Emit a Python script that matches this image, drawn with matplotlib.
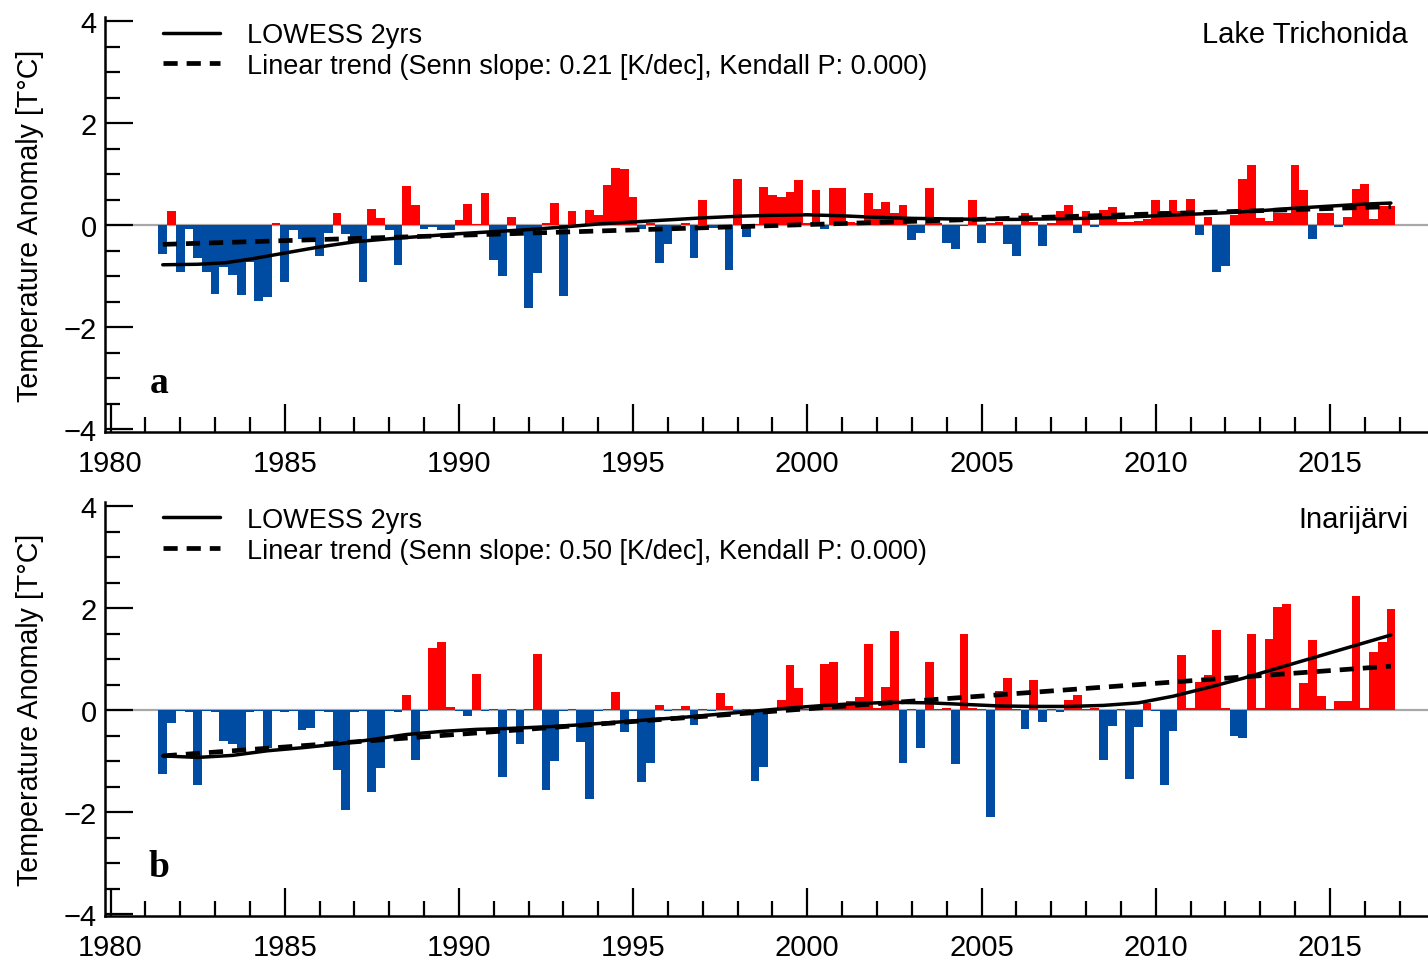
import numpy as np
import matplotlib
matplotlib.use("Agg")
import matplotlib.pyplot as plt
from matplotlib.ticker import MultipleLocator

# ---------------- data ----------------
first_center = 1981.5
step = 0.25

anom_a = [
    -0.56, 0.28, -0.92, -0.08, -0.65, -0.93, -1.36, -0.82, -0.98, -1.37,
    -0.73, -1.49, -1.41, 0.03, -1.12, -0.10, -0.28, -0.30, -0.60, -0.15,
    0.24, -0.18, -0.30, -1.12, 0.31, 0.14, -0.10, -0.78, 0.76, 0.39,
    -0.07, -0.03, -0.10, -0.10, 0.10, 0.42, 0.02, 0.63, -0.69, -1.00,
    0.16, -0.10, -1.63, -0.95, 0.03, 0.44, -1.40, 0.27, 0.02, 0.30,
    0.20, 0.78, 1.11, 1.10, 0.55, -0.08, 0.03, -0.75, -0.38, -0.03,
    0.03, -0.64, 0.49, -0.05, -0.05, -0.88, 0.90, -0.23, 0.02, 0.75,
    0.58, 0.54, 0.65, 0.88, 0.03, 0.69, -0.07, 0.72, 0.73, 0.05,
    0.03, 0.63, 0.31, 0.46, 0.23, 0.39, -0.29, -0.16, 0.72, 0.03,
    -0.35, -0.48, -0.02, 0.50, -0.35, 0.03, 0.05, -0.38, -0.61, 0.23,
    0.05, -0.41, 0.03, 0.27, 0.40, -0.16, 0.27, -0.04, 0.29, 0.36,
    0.05, 0.05, 0.08, 0.12, 0.49, 0.27, 0.49, 0.27, 0.51, -0.20,
    0.15, -0.93, -0.80, 0.20, 0.91, 1.18, 0.13, 0.08, 0.23, 0.23,
    1.18, 0.69, -0.27, 0.23, 0.23, -0.04, 0.15, 0.70, 0.80, 0.11,
    0.37, 0.37,
]

anom_b = [
    -1.25, -0.26, -0.02, -0.03, -1.48, -0.02, -0.03, -0.60, -0.67, -0.78,
    -0.03, -0.02, -0.74, -0.02, -0.03, -0.02, -0.39, -0.36, -0.02, -0.03,
    -1.18, -1.96, -0.03, -0.02, -1.61, -1.14, -0.02, -0.03, 0.29, -0.99,
    -0.02, 1.21, 1.34, 0.05, -0.02, -0.12, 0.71, -0.02, 0.02, -1.32,
    0.02, -0.67, 0.02, 1.10, -1.56, -1.00, -0.02, 0.02, -0.63, -1.75,
    -0.02, 0.02, 0.36, -0.44, -0.02, -1.42, -1.03, 0.10, -0.02, 0.02,
    0.07, -0.30, 0.02, -0.02, 0.33, 0.07, -0.02, 0.02, -1.40, -1.11,
    0.02, 0.20, 0.89, 0.43, 0.02, 0.03, 0.90, 0.95, 0.03, 0.18,
    0.25, 1.29, 0.03, 0.46, 1.54, -1.04, 0.02, -0.75, 0.95, 0.02,
    0.03, -1.06, 1.50, 0.03, 0.02, -2.10, 0.38, 0.62, 0.02, -0.37,
    0.58, -0.23, 0.02, -0.03, 0.20, 0.29, 0.02, 0.03, -0.99, -0.31,
    0.02, -1.35, -0.33, 0.13, -0.02, -1.47, -0.41, 1.07, 0.03, 0.55,
    0.68, 1.56, 0.03, -0.50, -0.55, 1.49, 0.03, 1.39, 2.01, 2.08,
    0.03, 0.53, 1.38, 0.28, 0.02, 0.18, 0.18, 2.23, 0.03, 1.14,
    1.33, 1.98,
]

lowess_years_a = [1981.5, 1982.5, 1983.3, 1984.0, 1985.0, 1986.0, 1987.0, 1988.0,
                  1989.0, 1990.0, 1991.0, 1992.0, 1993.0, 1994.0, 1995.0, 1996.0,
                  1997.0, 1998.0, 1999.0, 2000.0, 2001.0, 2002.0, 2003.0, 2004.0,
                  2005.0, 2006.0, 2007.0, 2008.0, 2009.0, 2010.0, 2011.0, 2012.0,
                  2013.0, 2014.0, 2015.0, 2016.0, 2016.75]
lowess_a = [-0.78, -0.77, -0.74, -0.67, -0.55, -0.43, -0.33, -0.27,
            -0.22, -0.17, -0.13, -0.09, -0.04, 0.02, 0.06, 0.10,
            0.14, 0.17, 0.19, 0.20, 0.18, 0.15, 0.13, 0.12,
            0.11, 0.11, 0.12, 0.13, 0.15, 0.18, 0.21, 0.24,
            0.28, 0.33, 0.37, 0.41, 0.43]

lowess_years_b = [1981.5, 1982.5, 1983.5, 1984.5, 1985.5, 1986.5, 1987.5, 1988.5,
                  1989.5, 1990.5, 1991.5, 1992.5, 1993.5, 1994.5, 1995.5, 1996.5,
                  1997.5, 1998.5, 1999.5, 2000.5, 2001.5, 2002.5, 2003.5, 2004.5,
                  2005.5, 2006.5, 2007.5, 2008.5, 2009.5, 2010.5, 2011.5, 2012.5,
                  2013.5, 2014.5, 2015.5, 2016.75]
lowess_b = [-0.90, -0.93, -0.89, -0.80, -0.74, -0.67, -0.58, -0.48,
            -0.42, -0.38, -0.36, -0.33, -0.29, -0.24, -0.19, -0.14,
            -0.08, -0.02, 0.04, 0.09, 0.13, 0.15, 0.14, 0.11,
            0.08, 0.07, 0.07, 0.09, 0.14, 0.27, 0.44, 0.62,
            0.82, 1.02, 1.22, 1.47]

trend_years = [1981.5, 2016.75]
trend_a = [-0.38, 0.36]
trend_b = [-0.90, 0.86]

titles = ["Lake Trichonida", "Inarijärvi"]
panel_letters = ["a", "b"]
slopes = ["0.21", "0.50"]
kendall_p = ["0.000", "0.000"]
xticks = [1980, 1985, 1990, 1995, 2000, 2005, 2010, 2015]
yticks = [-4, -2, 0, 2, 4]

# ---------------- style ----------------
RED = "#ff0000"
BLUE = "#004ca3"
SANS = ["Liberation Sans", "DejaVu Sans"]
plt.rcParams["font.family"] = SANS

W, H = 1428, 962
fig = plt.figure(figsize=(W / 100, H / 100), dpi=100)

left_px, right_px = 105, 1428
panels_px = [(18, 433), (503, 917)]
px_per_unit = 51.0
px_per_year = 34.84
x1980_px = 110.5

xlim = (1980 - (x1980_px - left_px) / px_per_year,
        1980 + (right_px - x1980_px) / px_per_year)

series = [(anom_a, lowess_years_a, lowess_a, trend_a),
          (anom_b, lowess_years_b, lowess_b, trend_b)]

for i, (top_px, bot_px) in enumerate(panels_px):
    ax = fig.add_axes([left_px / W, 1 - bot_px / H,
                       (right_px - left_px) / W, (bot_px - top_px) / H])
    anom, ly, lv, tv = series[i]
    n = len(anom)
    centers = first_center + step * np.arange(n)
    colors = [RED if v > 0 else BLUE for v in anom]

    ax.axhline(0, color="#a8a8a8", lw=1.6, zorder=1)
    ax.bar(centers, anom, width=step, color=colors, edgecolor="none",
           zorder=2, align="center")
    l_trend, = ax.plot(trend_years, tv, color="black", lw=3.4,
                       linestyle=(0, (3.0, 1.9)), zorder=3,
                       label=f"Linear trend (Senn slope: {slopes[i]} [K/dec], Kendall P: {kendall_p[i]})")
    l_low, = ax.plot(ly, lv, color="black", lw=2.5, zorder=4,
                     label="LOWESS 2yrs", solid_capstyle="round")

    zero_px = top_px + 4 + 4 * px_per_unit
    ax.set_ylim(-(bot_px - zero_px) / px_per_unit, (zero_px - top_px) / px_per_unit)
    ax.set_xlim(*xlim)

    for s in ["top", "right"]:
        ax.spines[s].set_visible(False)
    for s in ["left", "bottom"]:
        ax.spines[s].set_linewidth(1.8)

    ax.set_yticks(yticks)
    ax.set_yticklabels([("\u2212" + str(abs(t))) if t < 0 else str(t) for t in yticks])
    ax.yaxis.set_minor_locator(MultipleLocator(0.5))
    ax.set_xticks(xticks)
    ax.xaxis.set_minor_locator(MultipleLocator(1))
    ax.tick_params(axis="both", which="major", direction="in", length=20, width=1.6,
                   labelsize=21)
    ax.tick_params(axis="both", which="minor", direction="in", length=11, width=1.6)
    ax.tick_params(axis="y", which="major", pad=6)
    ax.tick_params(axis="x", which="major", pad=12)

    ax.set_ylabel("Temperature Anomaly [T\u00b0C]", fontsize=20.6)
    ax.yaxis.set_label_coords(-0.046, 0.5)

    ax.text(0.985, 0.959, titles[i], transform=ax.transAxes, ha="right",
            va="center", fontsize=21)
    ax.text(0.041, 0.12, panel_letters[i], transform=ax.transAxes, ha="center",
            va="center", fontsize=27, fontweight="bold",
            family=["Liberation Serif", "DejaVu Serif"])

    leg = ax.legend(handles=[l_low, l_trend], loc="upper left",
                    bbox_to_anchor=(0.0438, 0.988), frameon=False, fontsize=19.5,
                    handlelength=2.1, handletextpad=1.0, labelspacing=0.17,
                    borderpad=0, borderaxespad=0)

fig.savefig("out.png", dpi=100)
